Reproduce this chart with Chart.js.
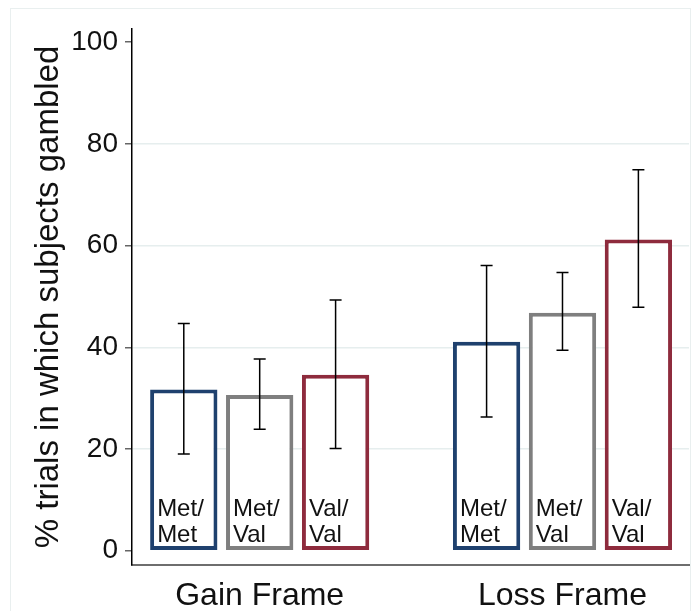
<!DOCTYPE html>
<html>
<head>
<meta charset="utf-8">
<script src="https://cdn.jsdelivr.net/npm/chart.js@4/dist/chart.umd.min.js"></script>
<style>
  html, body { margin: 0; padding: 0; background: #fff; }
  #wrap { width: 696px; height: 611px; position: relative; }
</style>
</head>
<body>
<div id="wrap"><canvas id="barChart" width="696" height="611"></canvas></div>
<script>
const frames = ['Gain Frame', 'Loss Frame'];
const frameX = [0, 1];
const genotypeLabels = [['Met/', 'Met'], ['Met/', 'Val'], ['Val/', 'Val']];
const genotypeColors = ['#1f416e', '#7f7f7f', '#8e2b3d'];

// % gambled per frame (Gain, Loss)
const metMet = [31.7, 41.1];
const metVal = [30.6, 46.8];
const valVal = [34.6, 61.2];

// error bar ends
const metMetLo = [19.0, 26.3];
const metMetHi = [44.7, 56.1];
const metValLo = [23.9, 39.4];
const metValHi = [37.7, 54.7];
const valValLo = [20.1, 47.9];
const valValHi = [49.3, 74.9];

const yTicks = [0, 20, 40, 60, 80, 100];

const FONT = '"Liberation Sans", Arial, Helvetica, sans-serif';

const seriesValues = [metMet, metVal, valVal];
const seriesLo = [metMetLo, metValLo, valValLo];
const seriesHi = [metMetHi, metValHi, valValHi];

function buildDatasets() {
    return seriesValues.map((vals, i) => ({
        label: genotypeLabels[i].join(''),
        data: vals.map((v, j) => ({ x: frameX[j], y: v })),
        backgroundColor: '#ffffff',
        borderColor: genotypeColors[i],
        borderWidth: 4,
        borderSkipped: false,
        categoryPercentage: 0.752,
        barPercentage: 0.887,
        lo: seriesLo[i],
        hi: seriesHi[i],
        boxLines: genotypeLabels[i]
    }));
}

const framePlugin = {
    id: 'framePlugin',
    beforeDraw(chart) {
        const c = chart.ctx;
        c.save();
        c.fillStyle = '#ffffff';
        c.fillRect(0, 0, chart.width, chart.height);
        c.strokeStyle = '#e9efef';
        c.lineWidth = 1;
        c.strokeRect(10.5, 8.5, 680, 610);
        c.restore();
    }
};

const errorBarsPlugin = {
    id: 'errorBars',
    afterDatasetsDraw(chart) {
        const c = chart.ctx;
        const yScale = chart.scales.y;
        const y0 = yScale.getPixelForValue(0);
        chart.data.datasets.forEach((ds, i) => {
            const meta = chart.getDatasetMeta(i);
            meta.data.forEach((bar, j) => {
                // label inside bar
                const left = bar.x - bar.width / 2;
                c.save();
                c.fillStyle = '#111111';
                c.font = '24px ' + FONT;
                c.textAlign = 'left';
                c.textBaseline = 'alphabetic';
                c.fillText(ds.boxLines[0], left + 7, y0 - 35);
                c.fillText(ds.boxLines[1], left + 7, y0 - 9);
                c.restore();

                // error bar
                const yLo = yScale.getPixelForValue(ds.lo[j]);
                const yHi = yScale.getPixelForValue(ds.hi[j]);
                c.save();
                c.strokeStyle = '#000000';
                c.lineWidth = 1.5;
                c.beginPath();
                c.moveTo(bar.x, yLo);
                c.lineTo(bar.x, yHi);
                c.moveTo(bar.x - 6, yLo);
                c.lineTo(bar.x + 6, yLo);
                c.moveTo(bar.x - 6, yHi);
                c.lineTo(bar.x + 6, yHi);
                c.stroke();
                c.restore();
            });
        });
    }
};

const ctx = document.getElementById('barChart').getContext('2d');
const myChart = new Chart(ctx, {
    type: 'bar',
    data: { datasets: buildDatasets() },
    options: {
        responsive: false,
        animation: false,
        layout: { padding: { top: 29, right: 7, left: 0, bottom: 0 } },
        plugins: {
            legend: { display: false },
            tooltip: { enabled: false },
            title: { display: false }
        },
        scales: {
            x: {
                type: 'linear',
                offset: false,
                min: -0.4217,
                max: 1.4178,
                afterBuildTicks: function(scale) {
                    scale.ticks = frameX.map(v => ({ value: v }));
                },
                afterFit: function(scale) { scale.height = 46; },
                grid: { display: false, drawTicks: false, offset: false },
                border: { display: true, color: '#6e6e6e', width: 2 },
                ticks: {
                    autoSkip: false,
                    maxRotation: 0,
                    padding: 12,
                    color: '#111111',
                    font: { family: FONT, size: 32 },
                    callback: function(value) {
                        const idx = frameX.indexOf(value);
                        return idx >= 0 ? frames[idx] : '';
                    }
                }
            },
            y: {
                min: -2.81,
                max: 102.6,
                afterBuildTicks: function(scale) {
                    scale.ticks = yTicks.map(v => ({ value: v }));
                },
                afterFit: function(scale) { scale.width = 132; },
                grid: {
                    color: function(c) {
                        const v = c.tick ? c.tick.value : null;
                        return (v === 0 || v === 100) ? 'rgba(0,0,0,0)' : '#e6eeee';
                    },
                    lineWidth: 1.5,
                    tickColor: '#666666',
                    tickLength: 7,
                    drawTicks: true
                },
                border: { display: true, color: '#000000', width: 1.5 },
                ticks: {
                    padding: 7,
                    color: '#111111',
                    font: { family: FONT, size: 28 }
                },
                title: {
                    display: true,
                    text: '% trials in which subjects gambled',
                    color: '#111111',
                    font: { family: FONT, size: 33 },
                    padding: { top: 29, bottom: 0 }
                }
            }
        }
    },
    plugins: [framePlugin, errorBarsPlugin]
});
</script>
</body>
</html>
